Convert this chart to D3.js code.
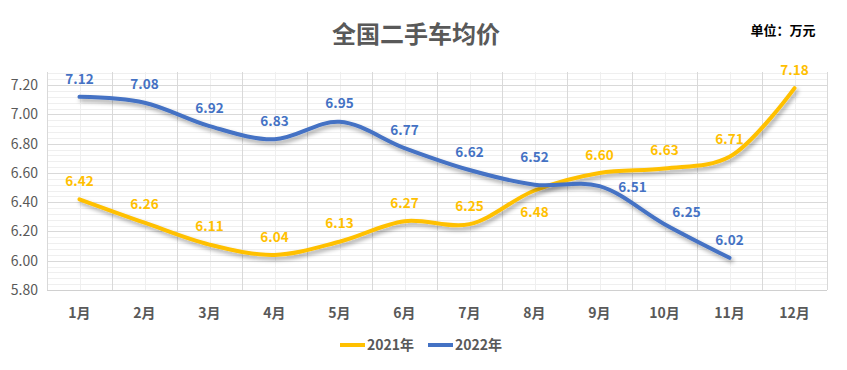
<!DOCTYPE html>
<html lang="zh">
<head>
<meta charset="utf-8">
<title>全国二手车均价</title>
<script src="https://cdn.jsdelivr.net/npm/d3@7/dist/d3.min.js"></script>
<style>
  body { margin: 0; background: #fff; }
  svg { display: block; font-family: "Noto Sans CJK SC", "Noto Sans", sans-serif; }
</style>
</head>
<body>
<script>
// data
var months = ["1月","2月","3月","4月","5月","6月","7月","8月","9月","10月","11月","12月"];
var values2021 = [6.42, 6.26, 6.11, 6.04, 6.13, 6.27, 6.25, 6.48, 6.60, 6.63, 6.71, 7.18];
var values2022 = [7.12, 7.08, 6.92, 6.83, 6.95, 6.77, 6.62, 6.52, 6.51, 6.25, 6.02];
var yTicks = [5.8, 6.0, 6.2, 6.4, 6.6, 6.8, 7.0, 7.2];

var w = 847, h = 370;
// plot area (note: "top" is reserved on window, so use pl/pr/pt/pb)
var pl = 47, pr = 827, pt = 72, pb = 290;

var svg = d3.select("body").append("svg")
    .attr("width", w)
    .attr("height", h);

// shadow under the lines
var defs = svg.append("defs");
var f = defs.append("filter").attr("id", "shadow")
    .attr("x", "-10%").attr("y", "-10%").attr("width", "120%").attr("height", "140%");
f.append("feDropShadow")
    .attr("dx", 2).attr("dy", 3).attr("stdDeviation", 2)
    .attr("flood-color", "#000").attr("flood-opacity", 0.35);

var x = d3.scaleBand().domain(months).range([pl, pr]);
var y = d3.scaleLinear().domain([5.8, 7.29]).range([pb, pt]);

// minor horizontal grid, every 0.04
var minor = d3.range(5.84, 7.29, 0.04).filter(function(v) {
    return Math.abs(Math.round(v / 0.2) * 0.2 - v) > 0.001;
});
svg.append("g").selectAll("line").data(minor).enter().append("line")
    .attr("x1", pl).attr("x2", pr)
    .attr("y1", function(d) { return Math.round(y(d)) + 0.5; })
    .attr("y2", function(d) { return Math.round(y(d)) + 0.5; })
    .attr("stroke", "#efefef");

// minor vertical grid at category centers
svg.append("g").selectAll("line").data(months).enter().append("line")
    .attr("x1", function(d) { return Math.round(x(d) + x.bandwidth() / 2) + 0.5; })
    .attr("x2", function(d) { return Math.round(x(d) + x.bandwidth() / 2) + 0.5; })
    .attr("y1", pt).attr("y2", pb)
    .attr("stroke", "#efefef");

// major horizontal grid
svg.append("g").selectAll("line").data(yTicks.slice(1)).enter().append("line")
    .attr("x1", pl).attr("x2", pr)
    .attr("y1", function(d) { return Math.round(y(d)) + 0.5; })
    .attr("y2", function(d) { return Math.round(y(d)) + 0.5; })
    .attr("stroke", "#d9d9d9");

// major vertical grid at category boundaries
var bounds = months.map(function(m) { return x(m); }).concat([pr]);
svg.append("g").selectAll("line").data(bounds).enter().append("line")
    .attr("x1", function(d) { return Math.round(d) + 0.5; })
    .attr("x2", function(d) { return Math.round(d) + 0.5; })
    .attr("y1", pt).attr("y2", pb)
    .attr("stroke", "#d9d9d9");

// bottom axis line
svg.append("line")
    .attr("x1", pl).attr("x2", pr)
    .attr("y1", Math.round(y(5.8)) + 0.5).attr("y2", Math.round(y(5.8)) + 0.5)
    .attr("stroke", "#d0d0d0");

// y tick labels
svg.append("g").selectAll("text").data(yTicks).enter().append("text")
    .attr("x", 38)
    .attr("y", function(d) { return y(d); })
    .attr("dy", "0.35em")
    .attr("text-anchor", "end")
    .attr("font-size", "14px")
    .attr("fill", "#595959")
    .text(function(d) { return d3.format(".2f")(d); });

// x labels
svg.append("g").selectAll("text").data(months).enter().append("text")
    .attr("x", function(d) { return x(d) + x.bandwidth() / 2; })
    .attr("y", 313)
    .attr("dy", "0.35em")
    .attr("text-anchor", "middle")
    .attr("font-size", "14px")
    .attr("font-weight", "bold")
    .attr("fill", "#595959")
    .text(function(d) { return d; });

var cx = function(d, i) { return x(months[i]) + x.bandwidth() / 2; };
var line = d3.line()
    .x(cx)
    .y(function(d) { return y(d); })
    .curve(d3.curveCatmullRom.alpha(0.5));

var series = [
    { name: "2021年", values: values2021, color: "#FFC000",
      nudge: { 7: [0, 40] } },
    { name: "2022年", values: values2022, color: "#4472C4",
      nudge: { 7: [0, -9], 8: [33, 19], 9: [22, 6] } }
];

series.forEach(function(s) {
    svg.append("path")
        .datum(s.values)
        .attr("d", line)
        .attr("fill", "none")
        .attr("stroke", s.color)
        .attr("stroke-width", 4)
        .attr("stroke-linecap", "round")
        .attr("filter", "url(#shadow)");
});

series.forEach(function(s) {
    svg.append("g").selectAll("text").data(s.values).enter().append("text")
        .attr("x", function(d, i) { return cx(d, i) + (s.nudge[i] ? s.nudge[i][0] : 0); })
        .attr("y", function(d, i) { return y(d) - 18 + (s.nudge[i] ? s.nudge[i][1] : 0); })
        .attr("dy", "0.35em")
        .attr("text-anchor", "middle")
        .attr("font-size", "13.5px")
        .attr("font-weight", "bold")
        .attr("fill", s.color)
        .text(function(d) { return d3.format(".2f")(d); });
});

// title
svg.append("text")
    .attr("x", 416).attr("y", 35)
    .attr("dy", "0.35em")
    .attr("text-anchor", "middle")
    .attr("font-size", "24px")
    .attr("font-weight", "bold")
    .attr("fill", "#595959")
    .text("全国二手车均价");

svg.append("text")
    .attr("x", 783).attr("y", 30)
    .attr("dy", "0.35em")
    .attr("text-anchor", "middle")
    .attr("font-size", "13px")
    .attr("font-weight", "bold")
    .attr("fill", "#000")
    .text("单位：万元");

// legend
var legend = svg.append("g").selectAll("g").data(series).enter().append("g")
    .attr("transform", function(d, i) { return "translate(" + (340 + i * 88) + ",345)"; });
legend.append("line")
    .attr("x1", 0).attr("x2", 25)
    .attr("stroke", function(d) { return d.color; })
    .attr("stroke-width", 4);
legend.append("text")
    .attr("x", 27)
    .attr("dy", "0.35em")
    .attr("font-size", "14px")
    .attr("font-weight", "bold")
    .attr("fill", "#595959")
    .text(function(d) { return d.name; });
</script>
</body>
</html>
